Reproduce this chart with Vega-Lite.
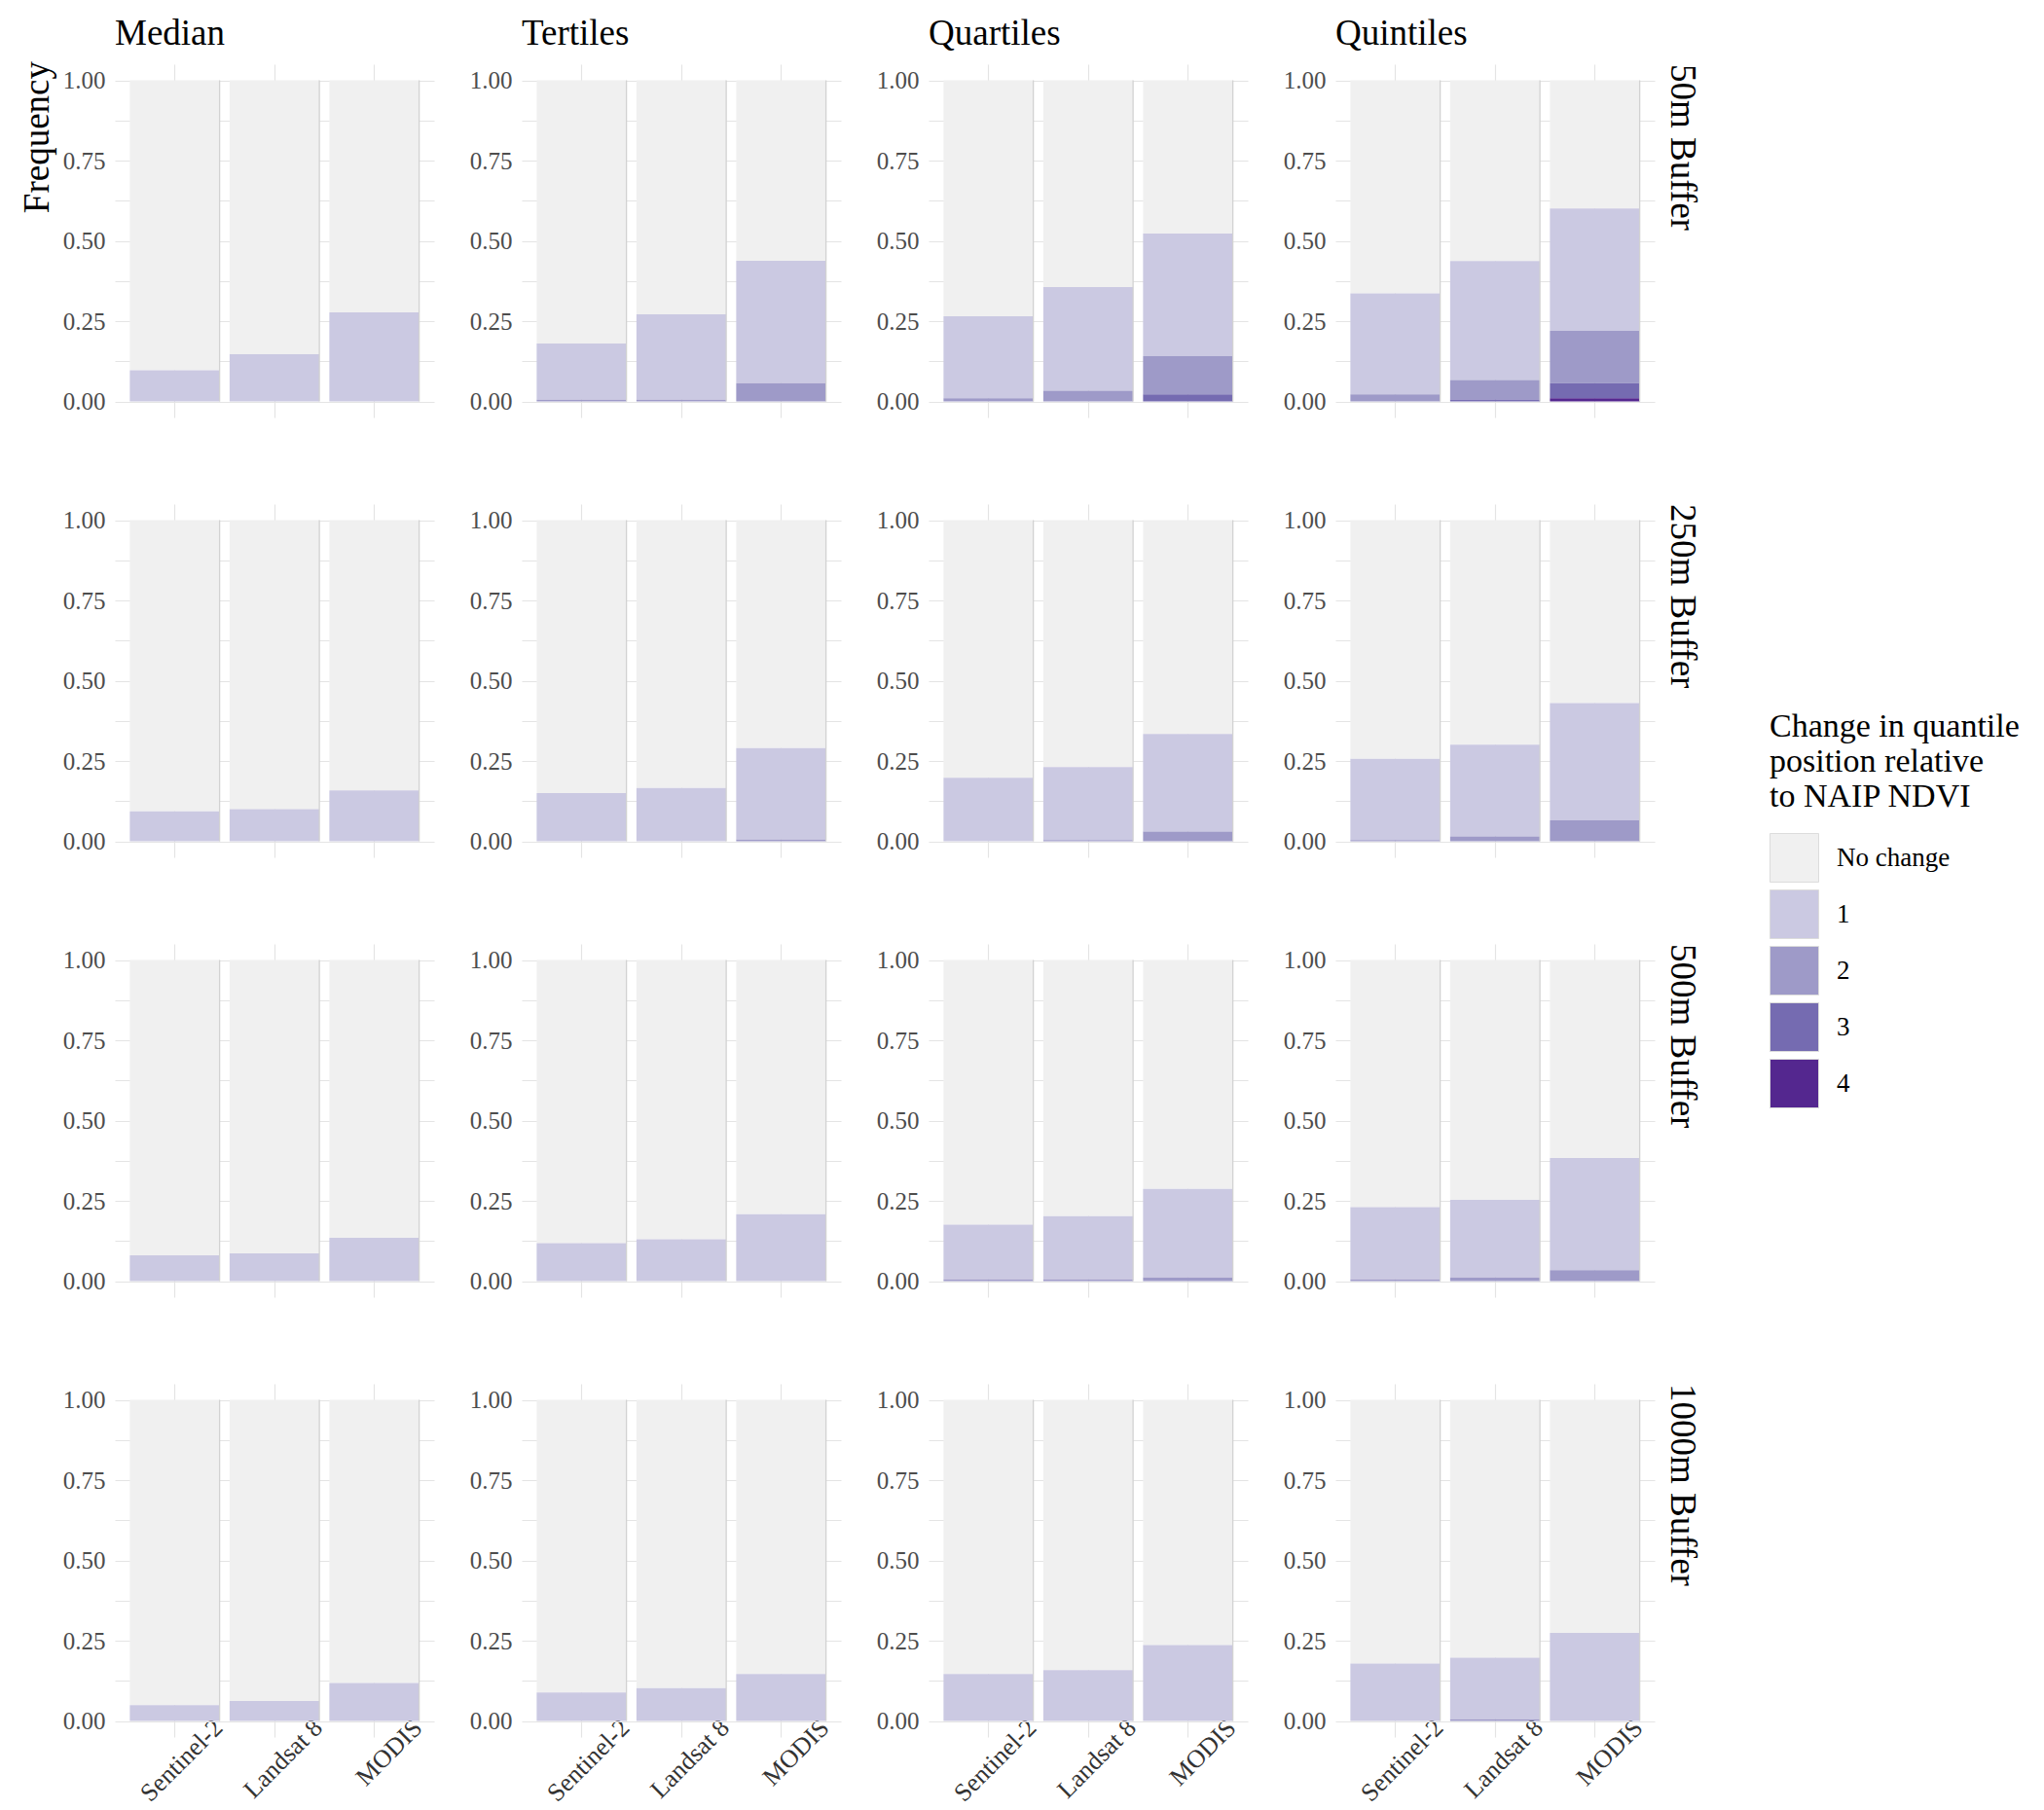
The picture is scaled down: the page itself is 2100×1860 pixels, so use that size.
{
"$schema": "https://vega.github.io/schema/vega-lite/v6.json",
"background": "white",
"padding": {"left": 20, "top": 16, "right": 5, "bottom": 5},
"title": {"text": "Frequency", "orient": "left", "anchor": "end", "font": "Liberation Serif", "fontSize": 37, "fontWeight": "normal", "color": "black", "offset": 6, "dx": -47},
"data": {"values": [
{"buffer":"50m Buffer","method":"Median","sensor":"Sentinel-2","shift":0,"freq":0.903},
{"buffer":"50m Buffer","method":"Median","sensor":"Sentinel-2","shift":1,"freq":0.097},
{"buffer":"50m Buffer","method":"Median","sensor":"Landsat 8","shift":0,"freq":0.853},
{"buffer":"50m Buffer","method":"Median","sensor":"Landsat 8","shift":1,"freq":0.147},
{"buffer":"50m Buffer","method":"Median","sensor":"MODIS","shift":0,"freq":0.723},
{"buffer":"50m Buffer","method":"Median","sensor":"MODIS","shift":1,"freq":0.277},
{"buffer":"50m Buffer","method":"Tertiles","sensor":"Sentinel-2","shift":0,"freq":0.820},
{"buffer":"50m Buffer","method":"Tertiles","sensor":"Sentinel-2","shift":1,"freq":0.175},
{"buffer":"50m Buffer","method":"Tertiles","sensor":"Sentinel-2","shift":2,"freq":0.005},
{"buffer":"50m Buffer","method":"Tertiles","sensor":"Landsat 8","shift":0,"freq":0.729},
{"buffer":"50m Buffer","method":"Tertiles","sensor":"Landsat 8","shift":1,"freq":0.266},
{"buffer":"50m Buffer","method":"Tertiles","sensor":"Landsat 8","shift":2,"freq":0.005},
{"buffer":"50m Buffer","method":"Tertiles","sensor":"MODIS","shift":0,"freq":0.562},
{"buffer":"50m Buffer","method":"Tertiles","sensor":"MODIS","shift":1,"freq":0.381},
{"buffer":"50m Buffer","method":"Tertiles","sensor":"MODIS","shift":2,"freq":0.057},
{"buffer":"50m Buffer","method":"Quartiles","sensor":"Sentinel-2","shift":0,"freq":0.735},
{"buffer":"50m Buffer","method":"Quartiles","sensor":"Sentinel-2","shift":1,"freq":0.255},
{"buffer":"50m Buffer","method":"Quartiles","sensor":"Sentinel-2","shift":2,"freq":0.010},
{"buffer":"50m Buffer","method":"Quartiles","sensor":"Landsat 8","shift":0,"freq":0.644},
{"buffer":"50m Buffer","method":"Quartiles","sensor":"Landsat 8","shift":1,"freq":0.323},
{"buffer":"50m Buffer","method":"Quartiles","sensor":"Landsat 8","shift":2,"freq":0.033},
{"buffer":"50m Buffer","method":"Quartiles","sensor":"MODIS","shift":0,"freq":0.477},
{"buffer":"50m Buffer","method":"Quartiles","sensor":"MODIS","shift":1,"freq":0.382},
{"buffer":"50m Buffer","method":"Quartiles","sensor":"MODIS","shift":2,"freq":0.119},
{"buffer":"50m Buffer","method":"Quartiles","sensor":"MODIS","shift":3,"freq":0.022},
{"buffer":"50m Buffer","method":"Quintiles","sensor":"Sentinel-2","shift":0,"freq":0.664},
{"buffer":"50m Buffer","method":"Quintiles","sensor":"Sentinel-2","shift":1,"freq":0.314},
{"buffer":"50m Buffer","method":"Quintiles","sensor":"Sentinel-2","shift":2,"freq":0.022},
{"buffer":"50m Buffer","method":"Quintiles","sensor":"Landsat 8","shift":0,"freq":0.563},
{"buffer":"50m Buffer","method":"Quintiles","sensor":"Landsat 8","shift":1,"freq":0.370},
{"buffer":"50m Buffer","method":"Quintiles","sensor":"Landsat 8","shift":2,"freq":0.061},
{"buffer":"50m Buffer","method":"Quintiles","sensor":"Landsat 8","shift":3,"freq":0.006},
{"buffer":"50m Buffer","method":"Quintiles","sensor":"MODIS","shift":0,"freq":0.399},
{"buffer":"50m Buffer","method":"Quintiles","sensor":"MODIS","shift":1,"freq":0.381},
{"buffer":"50m Buffer","method":"Quintiles","sensor":"MODIS","shift":2,"freq":0.163},
{"buffer":"50m Buffer","method":"Quintiles","sensor":"MODIS","shift":3,"freq":0.047},
{"buffer":"50m Buffer","method":"Quintiles","sensor":"MODIS","shift":4,"freq":0.010},
{"buffer":"250m Buffer","method":"Median","sensor":"Sentinel-2","shift":0,"freq":0.907},
{"buffer":"250m Buffer","method":"Median","sensor":"Sentinel-2","shift":1,"freq":0.093},
{"buffer":"250m Buffer","method":"Median","sensor":"Landsat 8","shift":0,"freq":0.900},
{"buffer":"250m Buffer","method":"Median","sensor":"Landsat 8","shift":1,"freq":0.100},
{"buffer":"250m Buffer","method":"Median","sensor":"MODIS","shift":0,"freq":0.842},
{"buffer":"250m Buffer","method":"Median","sensor":"MODIS","shift":1,"freq":0.158},
{"buffer":"250m Buffer","method":"Tertiles","sensor":"Sentinel-2","shift":0,"freq":0.850},
{"buffer":"250m Buffer","method":"Tertiles","sensor":"Sentinel-2","shift":1,"freq":0.150},
{"buffer":"250m Buffer","method":"Tertiles","sensor":"Landsat 8","shift":0,"freq":0.834},
{"buffer":"250m Buffer","method":"Tertiles","sensor":"Landsat 8","shift":1,"freq":0.166},
{"buffer":"250m Buffer","method":"Tertiles","sensor":"MODIS","shift":0,"freq":0.710},
{"buffer":"250m Buffer","method":"Tertiles","sensor":"MODIS","shift":1,"freq":0.285},
{"buffer":"250m Buffer","method":"Tertiles","sensor":"MODIS","shift":2,"freq":0.005},
{"buffer":"250m Buffer","method":"Quartiles","sensor":"Sentinel-2","shift":0,"freq":0.802},
{"buffer":"250m Buffer","method":"Quartiles","sensor":"Sentinel-2","shift":1,"freq":0.198},
{"buffer":"250m Buffer","method":"Quartiles","sensor":"Landsat 8","shift":0,"freq":0.769},
{"buffer":"250m Buffer","method":"Quartiles","sensor":"Landsat 8","shift":1,"freq":0.227},
{"buffer":"250m Buffer","method":"Quartiles","sensor":"Landsat 8","shift":2,"freq":0.004},
{"buffer":"250m Buffer","method":"Quartiles","sensor":"MODIS","shift":0,"freq":0.666},
{"buffer":"250m Buffer","method":"Quartiles","sensor":"MODIS","shift":1,"freq":0.304},
{"buffer":"250m Buffer","method":"Quartiles","sensor":"MODIS","shift":2,"freq":0.030},
{"buffer":"250m Buffer","method":"Quintiles","sensor":"Sentinel-2","shift":0,"freq":0.743},
{"buffer":"250m Buffer","method":"Quintiles","sensor":"Sentinel-2","shift":1,"freq":0.253},
{"buffer":"250m Buffer","method":"Quintiles","sensor":"Sentinel-2","shift":2,"freq":0.004},
{"buffer":"250m Buffer","method":"Quintiles","sensor":"Landsat 8","shift":0,"freq":0.699},
{"buffer":"250m Buffer","method":"Quintiles","sensor":"Landsat 8","shift":1,"freq":0.286},
{"buffer":"250m Buffer","method":"Quintiles","sensor":"Landsat 8","shift":2,"freq":0.015},
{"buffer":"250m Buffer","method":"Quintiles","sensor":"MODIS","shift":0,"freq":0.570},
{"buffer":"250m Buffer","method":"Quintiles","sensor":"MODIS","shift":1,"freq":0.365},
{"buffer":"250m Buffer","method":"Quintiles","sensor":"MODIS","shift":2,"freq":0.065},
{"buffer":"500m Buffer","method":"Median","sensor":"Sentinel-2","shift":0,"freq":0.920},
{"buffer":"500m Buffer","method":"Median","sensor":"Sentinel-2","shift":1,"freq":0.080},
{"buffer":"500m Buffer","method":"Median","sensor":"Landsat 8","shift":0,"freq":0.914},
{"buffer":"500m Buffer","method":"Median","sensor":"Landsat 8","shift":1,"freq":0.086},
{"buffer":"500m Buffer","method":"Median","sensor":"MODIS","shift":0,"freq":0.865},
{"buffer":"500m Buffer","method":"Median","sensor":"MODIS","shift":1,"freq":0.135},
{"buffer":"500m Buffer","method":"Tertiles","sensor":"Sentinel-2","shift":0,"freq":0.882},
{"buffer":"500m Buffer","method":"Tertiles","sensor":"Sentinel-2","shift":1,"freq":0.118},
{"buffer":"500m Buffer","method":"Tertiles","sensor":"Landsat 8","shift":0,"freq":0.870},
{"buffer":"500m Buffer","method":"Tertiles","sensor":"Landsat 8","shift":1,"freq":0.130},
{"buffer":"500m Buffer","method":"Tertiles","sensor":"MODIS","shift":0,"freq":0.792},
{"buffer":"500m Buffer","method":"Tertiles","sensor":"MODIS","shift":1,"freq":0.208},
{"buffer":"500m Buffer","method":"Quartiles","sensor":"Sentinel-2","shift":0,"freq":0.824},
{"buffer":"500m Buffer","method":"Quartiles","sensor":"Sentinel-2","shift":1,"freq":0.171},
{"buffer":"500m Buffer","method":"Quartiles","sensor":"Sentinel-2","shift":2,"freq":0.005},
{"buffer":"500m Buffer","method":"Quartiles","sensor":"Landsat 8","shift":0,"freq":0.798},
{"buffer":"500m Buffer","method":"Quartiles","sensor":"Landsat 8","shift":1,"freq":0.197},
{"buffer":"500m Buffer","method":"Quartiles","sensor":"Landsat 8","shift":2,"freq":0.005},
{"buffer":"500m Buffer","method":"Quartiles","sensor":"MODIS","shift":0,"freq":0.713},
{"buffer":"500m Buffer","method":"Quartiles","sensor":"MODIS","shift":1,"freq":0.276},
{"buffer":"500m Buffer","method":"Quartiles","sensor":"MODIS","shift":2,"freq":0.011},
{"buffer":"500m Buffer","method":"Quintiles","sensor":"Sentinel-2","shift":0,"freq":0.770},
{"buffer":"500m Buffer","method":"Quintiles","sensor":"Sentinel-2","shift":1,"freq":0.225},
{"buffer":"500m Buffer","method":"Quintiles","sensor":"Sentinel-2","shift":2,"freq":0.005},
{"buffer":"500m Buffer","method":"Quintiles","sensor":"Landsat 8","shift":0,"freq":0.747},
{"buffer":"500m Buffer","method":"Quintiles","sensor":"Landsat 8","shift":1,"freq":0.242},
{"buffer":"500m Buffer","method":"Quintiles","sensor":"Landsat 8","shift":2,"freq":0.011},
{"buffer":"500m Buffer","method":"Quintiles","sensor":"MODIS","shift":0,"freq":0.617},
{"buffer":"500m Buffer","method":"Quintiles","sensor":"MODIS","shift":1,"freq":0.349},
{"buffer":"500m Buffer","method":"Quintiles","sensor":"MODIS","shift":2,"freq":0.034},
{"buffer":"1000m Buffer","method":"Median","sensor":"Sentinel-2","shift":0,"freq":0.951},
{"buffer":"1000m Buffer","method":"Median","sensor":"Sentinel-2","shift":1,"freq":0.049},
{"buffer":"1000m Buffer","method":"Median","sensor":"Landsat 8","shift":0,"freq":0.938},
{"buffer":"1000m Buffer","method":"Median","sensor":"Landsat 8","shift":1,"freq":0.062},
{"buffer":"1000m Buffer","method":"Median","sensor":"MODIS","shift":0,"freq":0.882},
{"buffer":"1000m Buffer","method":"Median","sensor":"MODIS","shift":1,"freq":0.118},
{"buffer":"1000m Buffer","method":"Tertiles","sensor":"Sentinel-2","shift":0,"freq":0.911},
{"buffer":"1000m Buffer","method":"Tertiles","sensor":"Sentinel-2","shift":1,"freq":0.089},
{"buffer":"1000m Buffer","method":"Tertiles","sensor":"Landsat 8","shift":0,"freq":0.898},
{"buffer":"1000m Buffer","method":"Tertiles","sensor":"Landsat 8","shift":1,"freq":0.102},
{"buffer":"1000m Buffer","method":"Tertiles","sensor":"MODIS","shift":0,"freq":0.854},
{"buffer":"1000m Buffer","method":"Tertiles","sensor":"MODIS","shift":1,"freq":0.146},
{"buffer":"1000m Buffer","method":"Quartiles","sensor":"Sentinel-2","shift":0,"freq":0.854},
{"buffer":"1000m Buffer","method":"Quartiles","sensor":"Sentinel-2","shift":1,"freq":0.146},
{"buffer":"1000m Buffer","method":"Quartiles","sensor":"Landsat 8","shift":0,"freq":0.842},
{"buffer":"1000m Buffer","method":"Quartiles","sensor":"Landsat 8","shift":1,"freq":0.158},
{"buffer":"1000m Buffer","method":"Quartiles","sensor":"MODIS","shift":0,"freq":0.764},
{"buffer":"1000m Buffer","method":"Quartiles","sensor":"MODIS","shift":1,"freq":0.236},
{"buffer":"1000m Buffer","method":"Quintiles","sensor":"Sentinel-2","shift":0,"freq":0.821},
{"buffer":"1000m Buffer","method":"Quintiles","sensor":"Sentinel-2","shift":1,"freq":0.179},
{"buffer":"1000m Buffer","method":"Quintiles","sensor":"Landsat 8","shift":0,"freq":0.803},
{"buffer":"1000m Buffer","method":"Quintiles","sensor":"Landsat 8","shift":1,"freq":0.192},
{"buffer":"1000m Buffer","method":"Quintiles","sensor":"Landsat 8","shift":2,"freq":0.005},
{"buffer":"1000m Buffer","method":"Quintiles","sensor":"MODIS","shift":0,"freq":0.726},
{"buffer":"1000m Buffer","method":"Quintiles","sensor":"MODIS","shift":1,"freq":0.274}
]},
"facet": {
  "row": {"field": "buffer", "type": "nominal", "sort": ["50m Buffer","250m Buffer","500m Buffer","1000m Buffer"], "title": null,
    "header": {"labelFont": "Liberation Serif", "labelFontSize": 37, "labelColor": "black", "labelOrient": "right", "labelAngle": 90, "labelAnchor": "start", "labelAlign": "left", "labelBaseline": "bottom", "labelPadding": -28, "labelExpr": "'\u200b\u00a0' + datum.label"}},
  "column": {"field": "method", "type": "nominal", "sort": ["Median","Tertiles","Quartiles","Quintiles"], "title": null,
    "header": {"labelFont": "Liberation Serif", "labelFontSize": 37, "labelColor": "black", "labelOrient": "top", "labelAnchor": "start", "labelPadding": 12, "labelExpr": "'\u200b\u00a0' + datum.label"}}
},
"spacing": {"row": 89, "column": 90},
"bounds": "flush",
"resolve": {"axis": {"y": "independent"}},
"spec": {
  "width": 328,
  "height": 363,
  "layer": [
    {
      "mark": {"type": "bar"},
      "encoding": {
        "x": {"field": "sensor", "type": "nominal", "sort": ["Sentinel-2","Landsat 8","MODIS"],
          "scale": {"paddingInner": 0.1, "paddingOuter": 0.15},
          "axis": {"title": null, "labelAngle": -45, "labelAlign": "right", "labelBaseline": "middle", "labelOffset": 45, "labelPadding": -14, "ticks": false, "domain": false, "grid": true, "bandPosition": 0.5, "labelOverlap": false, "labelFlush": false, "labelFont": "Liberation Serif", "labelFontSize": 26, "labelColor": "#333333"}},
        "y": {"field": "freq", "type": "quantitative", "stack": "zero",
          "scale": {"domain": [-0.05, 1.05], "nice": false, "zero": false},
          "axis": {"title": null, "values": [0,0.125,0.25,0.375,0.5,0.625,0.75,0.875,1], "labelExpr": "(datum.value * 4) % 1 == 0 ? format(datum.value, '.2f') : ''", "ticks": false, "domain": false, "grid": true, "labelOverlap": false, "labelPadding": 10, "labelFont": "Liberation Serif", "labelFontSize": 25, "labelColor": "#4d4d4d"}},
        "color": {"field": "shift", "type": "nominal",
          "scale": {"domain": [0,1,2,3,4], "range": ["#f0f0f0","#cbc9e2","#9e9ac8","#756bb1","#54278f"]},
          "legend": {"title": ["Change in quantile","position relative","to NAIP NDVI"], "orient": "none", "legendX": 1700, "legendY": 664,
            "symbolType": "square", "symbolSize": 2500, "symbolStrokeWidth": 1, "symbolStrokeColor": "#dcdcdc", "symbolOpacity": 1,
            "labelExpr": "datum.label == '0' ? 'No change' : datum.label",
            "titleFont": "Liberation Serif", "titleFontSize": 34, "titleFontWeight": "normal", "titleLineHeight": 36, "titleColor": "black", "titlePadding": 20, "titleLimit": 500,
            "labelFont": "Liberation Serif", "labelFontSize": 27, "labelColor": "black", "labelOffset": 18, "labelLimit": 300, "rowPadding": 3}},
        "order": {"field": "shift", "type": "quantitative", "sort": "descending"}
      }
    },
    {
      "transform": [{"filter": "datum.shift == 0"}],
      "mark": {"type": "rule", "color": "#d2d2d2", "strokeWidth": 1.3},
      "encoding": {
        "x": {"field": "sensor", "type": "nominal", "sort": ["Sentinel-2","Landsat 8","MODIS"], "bandPosition": 1},
        "y": {"datum": 0},
        "y2": {"datum": 1}
      }
    }
  ]
},
"config": {
  "view": {"stroke": null},
  "axis": {"gridColor": "#e4e4e4", "gridWidth": 1.2, "labelFont": "Liberation Serif", "labelFontSize": 25, "labelColor": "#4d4d4d"},
  "axisY": {"labelFont": "Liberation Serif", "labelFontSize": 25}
}
}
